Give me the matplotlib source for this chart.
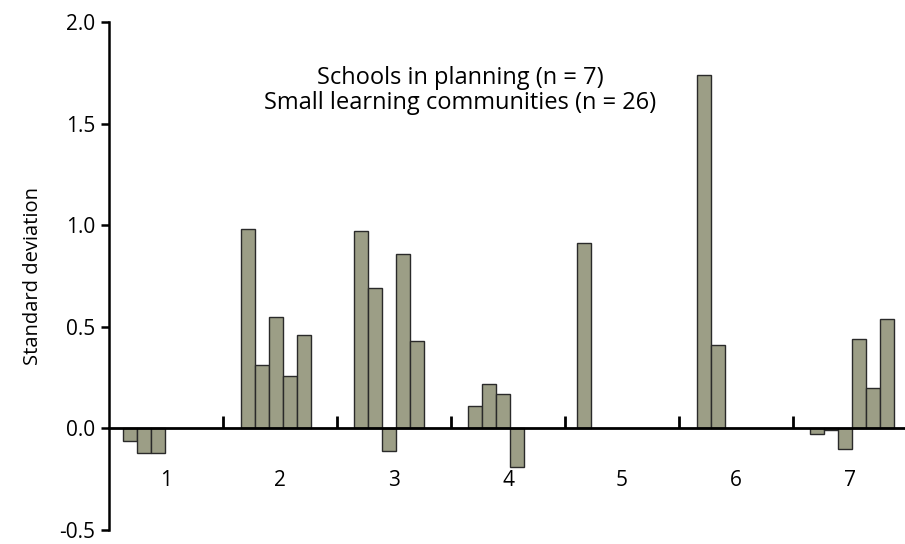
"""Standard deviation of SLC effects, grouped by school."""

import matplotlib

matplotlib.use("Agg")
import matplotlib.pyplot as plt

plt.rcParams["font.family"] = ["Open Sans", "DejaVu Sans"]

# one list of SLC values per school in planning
schools = ["1", "2", "3", "4", "5", "6", "7"]
slc_values = [
    [-0.06, -0.12, -0.12],
    [0.98, 0.31, 0.55, 0.26, 0.46],
    [0.97, 0.69, -0.11, 0.86, 0.43],
    [0.11, 0.22, 0.17, -0.19],
    [0.91],
    [1.74, 0.41],
    [-0.03, -0.01, -0.10, 0.44, 0.20, 0.54],
]
title_lines = ["Schools in planning (n = 7)", "Small learning communities (n = 26)"]

# layout: where the first bar of each school sits inside its slot
group_offsets = [0.117, 0.153, 0.149, 0.149, 0.105, 0.155, 0.152]
bar_width = 0.123
bar_color = "#9c9e86"
edge_color = "#2a2a2a"

fig = plt.figure(figsize=(9.05, 5.44), dpi=100)
ax = fig.add_axes([109.4 / 905, 14 / 544, 1 - 109.4 / 905, 508 / 544])

for i, vals in enumerate(slc_values):
    start = i + 0.5 + group_offsets[i]
    xs = [start + k * bar_width for k in range(len(vals))]
    ax.bar(xs, vals, width=bar_width, align="edge", color=bar_color,
           edgecolor=edge_color, linewidth=1.0, zorder=2)

ax.set_xlim(0.5, 7.485)
ax.set_ylim(-0.5, 2.0)

for side in ("top", "right"):
    ax.spines[side].set_visible(False)
ax.spines["bottom"].set_position(("data", 0))
ax.spines["bottom"].set_linewidth(2.0)
ax.spines["bottom"].set_zorder(3)
ax.spines["left"].set_linewidth(1.8)

ax.set_yticks([-0.5, 0.0, 0.5, 1.0, 1.5, 2.0])
ax.set_yticklabels(["-0.5", "0.0", "0.5", "1.0", "1.5", "2.0"])
ax.tick_params(axis="y", direction="out", length=6, width=1.8,
               labelsize=15, pad=4)

# boundaries between schools get upward ticks, labels sit at the centres
ax.set_xticks([1.5, 2.5, 3.5, 4.5, 5.5, 6.5])
ax.set_xticklabels([])
ax.tick_params(axis="x", which="major", direction="in", length=9, width=2.0)
ax.set_xticks(range(1, 8), minor=True)
ax.set_xticklabels(schools, minor=True)
ax.tick_params(axis="x", which="minor", length=0, labelsize=15, pad=30)

ax.set_ylabel("Standard deviation", fontsize=14.5, labelpad=12)

fig.text(460 / 905, 1 - 78 / 544, title_lines[0], ha="center", va="center",
         fontsize=17)
fig.text(460 / 905, 1 - 103 / 544, title_lines[1], ha="center", va="center",
         fontsize=17)

fig.savefig("out.png", dpi=100)
